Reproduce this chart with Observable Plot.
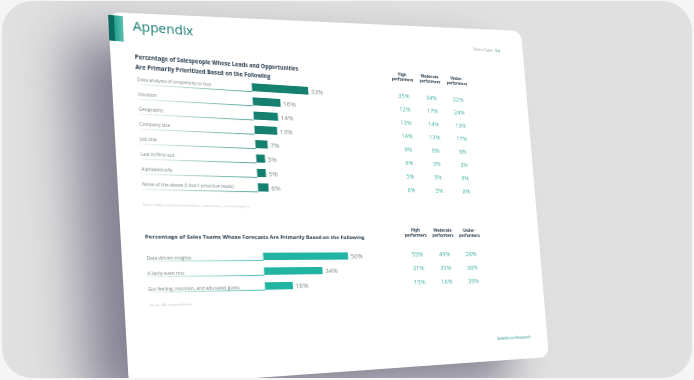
<!DOCTYPE html>
<html><head><meta charset="utf-8">
<script src="https://cdn.jsdelivr.net/npm/d3@7"></script>
<script src="https://cdn.jsdelivr.net/npm/@observablehq/plot@0.6"></script>
<style>
html,body{margin:0;padding:0;width:694px;height:380px;overflow:hidden;background:#f5f5f5;font-family:"Open Sans",sans-serif;}
#card{position:absolute;left:2px;top:1px;width:690px;height:377px;border-radius:30px;overflow:hidden;background:#e0e0e0;}
#shadow,#page,#content{position:absolute;left:0;top:0;transform-origin:0 0;}
#shadow,#page{border-radius:12px;}
#shadow{background:rgba(72,68,96,0.62);filter:blur(28px);}
#page{background:#fff;}
#content svg{position:absolute;left:0;top:0;}
#accent{position:absolute;background:linear-gradient(to right,#0d6a60 0%,#0d6a60 38%,#22a08f 38%,#5cc0b2 100%);}
</style></head><body>
<div id="card"><div id="shadow"></div><div id="page"></div><div id="content"><div id="accent"></div></div></div>
<script>
// ---------- data ----------
const leadCategories = ["Data analysis of propensity to buy","Intuition","Geography","Company size","Job title","Last in/first out","Alphabetically","None of the above (I don't prioritize leads)"];
const leadTotal = [33,16,14,13,7,5,5,6];
const leadHigh = [35,12,13,14,9,6,5,6];
const leadModerate = [34,17,14,13,6,5,5,5];
const leadUnder = [22,24,13,17,6,3,6,8];
const performerGroups = ["High\nperformers","Moderate\nperformers","Under-\nperformers"];
const forecastCategories = ["Data-driven insights","A fairly even mix","Gut feeling, intuition, and educated guess"];
const forecastTotal = [50,34,16];
const forecastHigh = [55,31,15];
const forecastModerate = [49,35,16];
const forecastUnder = [28,38,35];

// ---------- perspective geometry ----------
const cardX = 2, cardY = 1;
function solve(A,b){const n=b.length;A=A.map((r,i)=>r.concat([b[i]]));
  for(let c=0;c<n;c++){let p=c;for(let r=c+1;r<n;r++)if(Math.abs(A[r][c])>Math.abs(A[p][c]))p=r;[A[c],A[p]]=[A[p],A[c]];
    for(let r=0;r<n;r++){if(r===c)continue;const f=A[r][c]/A[c][c];for(let k=c;k<=n;k++)A[r][k]-=f*A[c][k];}}
  return A.map((r,i)=>r[n]/r[i]);}
function makeH(W,H,corners){
  const src=[[0,0],[W,0],[W,H],[0,H]], dst=corners.map(([x,y])=>[x-cardX,y-cardY]);
  const A=[],b=[];
  for(let i=0;i<4;i++){const [u,v]=src[i],[X,Y]=dst[i];A.push([u,v,1,0,0,0,-u*X,-v*X]);b.push(X);A.push([0,0,0,u,v,1,-u*Y,-v*Y]);b.push(Y);}
  const [a,bb,c,d,e,f,g,h]=solve(A,b);
  const Mi=[[e-f*h,c*h-bb,bb*f-c*e],[f*g-d,a-c*g,c*d-a*f],[d*h-e*g,bb*g-a*h,a*e-bb*d]];
  return {m3d:`matrix3d(${a},${d},0,${g},${bb},${e},0,${h},0,0,1,0,${c},${f},0,1)`,
    inv(X,Y){X-=cardX;Y-=cardY;const u=Mi[0][0]*X+Mi[0][1]*Y+Mi[0][2],v=Mi[1][0]*X+Mi[1][1]*Y+Mi[1][2],w=Mi[2][0]*X+Mi[2][1]*Y+Mi[2][2];return {u:u/w,v:v/w};}};
}
// the sheet
const PW=500, PH=390;
const pageH=makeH(PW,PH,[[108,12],[521,31],[549,357],[129,387]]);
const page=document.getElementById("page"), shadow=document.getElementById("shadow");
for(const el of [page,shadow]){el.style.width=PW+"px";el.style.height=PH+"px";}
page.style.transform=pageH.m3d;
shadow.style.transform=`translate(-38px,24px) ${pageH.m3d}`;
// the printed content
const W=500, H=390;
const CH=makeH(W,H,[[108,12],[519.2,49],[549.7,363.8],[123.6,387.3]]);
const inv=CH.inv;
const content=document.getElementById("content");
content.style.width=W+"px";content.style.height=H+"px";content.style.transform=CH.m3d;

const accent=document.getElementById("accent");
{const p1=inv(110,15),p2=inv(124,42);accent.style.left="0px";accent.style.top=p1.v+"px";accent.style.width=(p2.u)+"px";accent.style.height=(p2.v-p1.v)+"px";}

const FONT="Open Sans";
const base={width:W,height:H,marginTop:0,marginRight:0,marginBottom:0,style:{background:"transparent",overflow:"visible",fontFamily:FONT}};
function addGradient(svgEl,id,x1,x2,c1,c2){
  const ns="http://www.w3.org/2000/svg";
  const defs=document.createElementNS(ns,"defs"), g=document.createElementNS(ns,"linearGradient");
  g.setAttribute("id",id);g.setAttribute("gradientUnits","userSpaceOnUse");
  g.setAttribute("x1",x1);g.setAttribute("x2",x2);g.setAttribute("y1",0);g.setAttribute("y2",0);
  for(const [o,c] of [[0,c1],[1,c2]]){const s=document.createElementNS(ns,"stop");s.setAttribute("offset",o);s.setAttribute("stop-color",c);g.appendChild(s);}
  defs.appendChild(g);svgEl.insertBefore(defs,svgEl.firstChild);
  // paint the underline rules with the gradient
  svgEl.querySelectorAll('g[aria-label="rule"]').forEach(gr=>{gr.setAttribute("stroke",`url(#${id})`);gr.querySelectorAll("line").forEach(l=>l.removeAttribute("stroke"));});
  return svgEl;
}

function barChart(cats,vals,anch,colors,ids){
  const left=inv(...anch.label).u;
  const c1=inv(...anch.first).v, cN=inv(...anch.last).v, n=cats.length, s=(cN-c1)/(n-1);
  const bh=inv(anch.first[0],anch.first[1]+anch.half).v-inv(anch.first[0],anch.first[1]-anch.half).v, pad=1-bh/s;
  const u0=(inv(...anch.zeroFirst).u+inv(...anch.zeroLast).u)/2, uEnd=inv(...anch.endFirst).u, per=(uEnd-u0)/vals[0];
  const labelStart=(left-u0)/per; // x value at the label column
  const rows=cats.map((cat,i)=>({cat,value:vals[i]}));
  const el=Plot.plot({...base,marginLeft:left,
    x:{domain:[0,100],range:[u0,u0+100*per]},
    y:{type:"band",domain:cats,range:[c1-s/2,cN+s/2],paddingInner:pad,paddingOuter:pad/2},
    axis:null,
    marks:[
      Plot.ruleY(rows,{y:"cat",x1:labelStart,x2:0,stroke:colors.g2,strokeWidth:0.9,dy:bh/2}),
      Plot.barX(rows,{y:"cat",x:"value",fill:colors.bar}),
      Plot.text(rows,{y:"cat",text:"cat",frameAnchor:"left",textAnchor:"start",lineAnchor:"middle",dy:anch.labelDy,fontSize:5,fill:"#7b8787",fontFamily:FONT}),
      Plot.text(rows,{y:"cat",x:"value",text:d=>d.value+"%",textAnchor:"start",dx:2.5,dy:0.5,fontSize:7.5,fill:"#7f8c8c",fontFamily:FONT})
    ]});
  addGradient(el,ids,left,u0,colors.g1,colors.g2);
  content.append(el);
}
function table(cats,cols,anch){
  const a=inv(...anch.first), b=inv(...anch.firstLastCol), z=inv(...anch.lastRow), hdr=inv(...anch.header);
  const cells=cats.flatMap((cat,i)=>cols.map((arr,k)=>({cat,grp:performerGroups[k],v:arr[i]})));
  content.append(Plot.plot({...base,marginLeft:0,marginTop:hdr.v,
    x:{type:"point",domain:performerGroups,range:[a.u,b.u],padding:0},
    y:{type:"point",domain:cats,range:[a.v,z.v],padding:0},
    axis:null,
    marks:[
      Plot.text(cells,{x:"grp",y:"cat",text:d=>d.v+"%",fontSize:7.3,fill:"#47b4a7",fontFamily:FONT}),
      Plot.text(performerGroups,{x:d=>d,text:d=>d,frameAnchor:"top",lineAnchor:"middle",lineHeight:1.15,fontSize:4.9,fontWeight:"bold",fill:"#26394a",fontFamily:FONT})
    ]}));
}
barChart(leadCategories,leadTotal,
  {label:[137,83],first:[280,87],last:[263,189],half:4,zeroFirst:[252,87],zeroLast:[258,189],endFirst:[308,87],labelDy:-0.3},
  {bar:"#15806f",g1:"#eef5f4",g2:"#2f8d82"},"ul1");
table(leadCategories,[leadHigh,leadModerate,leadUnder],{first:[403,94],firstLastCol:[458,97],lastRow:[411,191],header:[402,76.5]});
barChart(forecastCategories,forecastTotal,
  {label:[146,258],first:[305,255.5],last:[280,285.5],half:3.5,zeroFirst:[263,255.5],zeroLast:[265,285.5],endFirst:[348,255.5],labelDy:0.8},
  {bar:"#22b4a2",g1:"#ecf7f5",g2:"#27ae9c"},"ul2");
table(forecastCategories,[forecastHigh,forecastModerate,forecastUnder],{first:[417,254],firstLastCol:[471,253],lastRow:[418,282],header:[414,232]});

// ---------- static texts ----------
{
  const svg=d3.create("svg").attr("width",W).attr("height",H).style("font-family",FONT).style("overflow","visible");
  function t(X,Y,str,size,fill,weight){const p=inv(X,Y);return svg.append("text").attr("x",p.u).attr("y",p.v).attr("font-size",size).attr("fill",fill).attr("font-weight",weight||400).text(str);}
  t(133,31,"Appendix",14.6,"#157d71");
  t(135,59,"Percentage of Salespeople Whose Leads and Opportunities",6.2,"#1f3447",700);
  t(135.5,69.5,"Are Primarily Prioritized Based on the Following",6.2,"#1f3447",700);
  t(143,206,"Note: Sales reps/sales leaders, executives, and managers",4.3,"#c3caca");
  t(145,238.5,"Percentage of Sales Teams Whose Forecasts Are Primarily Based on the Following",6.05,"#1f3447",700);
  t(150,307,"Note: All respondents",4.3,"#c3caca");
  const st=t(473,50,"State of Sales",4.5,"#9aa5a5");
  st.append("tspan").attr("dx",3).attr("font-size",6).attr("fill","#3e8f86").text("54");
  t(497,340,"Salesforce Research",5,"#3a9e92");
  content.append(svg.node());
}
</script>
</body></html>
